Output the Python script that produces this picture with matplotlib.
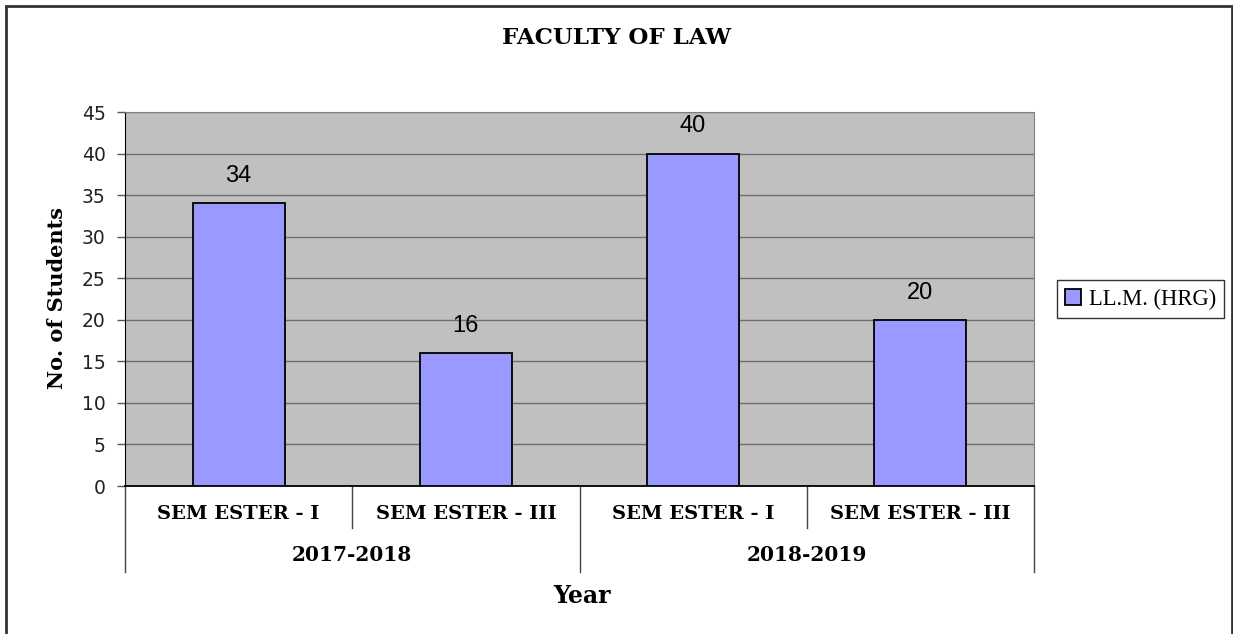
import numpy as np
import matplotlib.pyplot as plt
import matplotlib.transforms as mtransforms
from matplotlib.patches import Rectangle

# Data
semesters = ["SEM ESTER - I", "SEM ESTER - III", "SEM ESTER - I", "SEM ESTER - III"]
years = ["2017-2018", "2018-2019"]
students = [34, 16, 40, 20]
series_name = "LL.M. (HRG)"

bar_color = "#9999FF"
plot_bg = "#C0C0C0"
W, H = 1233, 634

fig = plt.figure(figsize=(W / 100, H / 100), dpi=100)
ax = fig.add_axes([125 / W, 1 - 486 / H, 909 / W, 374 / H])
ax.set_facecolor(plot_bg)

x = np.arange(len(students))
bars = ax.bar(x, students, width=0.405, color=bar_color, edgecolor="black",
              linewidth=1.3, label=series_name, zorder=3)

ax.set_xlim(-0.5, len(students) - 0.5)
ax.set_ylim(0, 45)
ax.set_yticks(np.arange(0, 46, 5))
ax.yaxis.grid(True, color="#6e6e6e", linewidth=1.0, zorder=0)
ax.set_axisbelow(True)
ax.set_xticks([])
ax.tick_params(axis="y", length=6, width=1, color="#555555", pad=8, labelsize=13.5)
for lab in ax.get_yticklabels():
    lab.set_fontfamily("DejaVu Sans")
    lab.set_color("#222222")

for side in ["top", "right"]:
    ax.spines[side].set_color("#808080")
ax.spines["left"].set_color("black")
ax.spines["bottom"].set_color("black")
ax.spines["bottom"].set_linewidth(1.3)

# data labels
for xi, v in zip(x, students):
    ax.annotate(str(v), (xi, v), xytext=(0, 19.5), textcoords="offset points",
                ha="center", va="center", fontsize=17, family="Liberation Sans")

# category axis (two levels)
trans = mtransforms.blended_transform_factory(ax.transData, ax.transAxes)
for xi, s in zip(x, semesters):
    ax.text(xi, -0.075, s, transform=trans, ha="center", va="center",
            fontsize=14, fontweight="bold", family="DejaVu Serif")
for b in [0.5, 2.5]:
    ax.plot([b, b], [0, -0.112], transform=trans, color="#444444", lw=1, clip_on=False)
for b in [-0.5, 1.5, 3.5]:
    ax.plot([b, b], [0, -0.229], transform=trans, color="#444444", lw=1, clip_on=False)
for i, yr in enumerate(years):
    ax.text(2 * i + 0.5, -0.185, yr, transform=trans, ha="center", va="center",
            fontsize=14.5, fontweight="bold", family="DejaVu Serif")

fig.text(582 / W, 1 - 596 / H, "Year", ha="center", va="center",
         fontsize=17, fontweight="bold", family="DejaVu Serif")
fig.text(57 / W, 1 - 298 / H, "No. of Students", ha="center", va="center",
         rotation=90, fontsize=15, fontweight="bold", family="DejaVu Serif")
fig.text(617 / W, 1 - 38 / H, "FACULTY OF LAW", ha="center", va="center",
         fontsize=16.5, fontweight="bold", family="DejaVu Serif")

leg = fig.legend(handles=[bars], labels=[series_name], loc="center left",
                 bbox_to_anchor=(1057 / W, 1 - 299 / H), frameon=True,
                 fancybox=False, edgecolor="black", handlelength=0.7,
                 handleheight=0.7, handletextpad=0.35, borderpad=0.35,
                 borderaxespad=0, prop={"family": "Liberation Serif", "size": 16.3})
leg.get_frame().set_linewidth(1)

# outer border (bottom edge falls outside the picture)
fig.patches.append(Rectangle((6 / W, -10 / H), 1226 / W, 638 / H,
                             transform=fig.transFigure, fill=False,
                             edgecolor="#333333", linewidth=2))

fig.savefig("out.png", dpi=100)
